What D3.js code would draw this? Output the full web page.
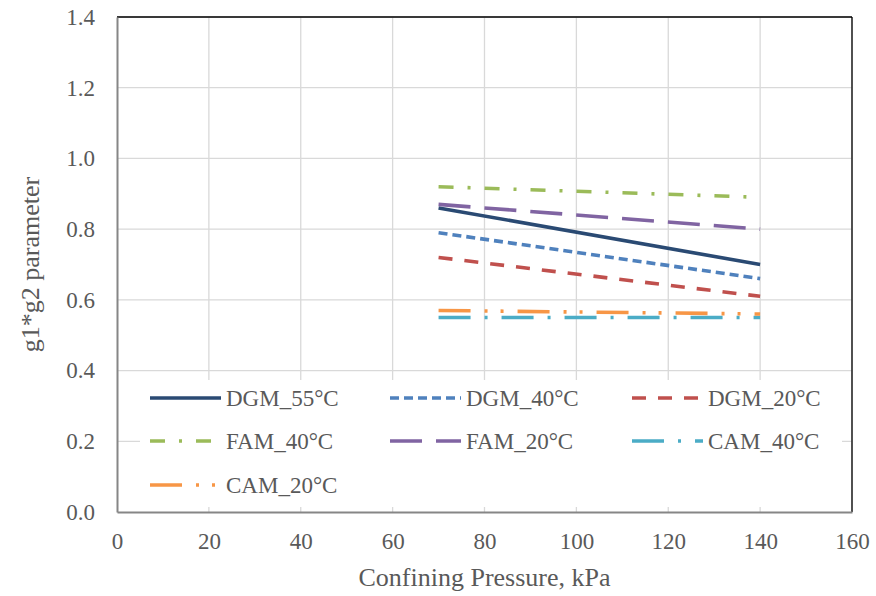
<!DOCTYPE html>
<html><head><meta charset="utf-8">
<script src="https://cdn.jsdelivr.net/npm/d3@7"></script>
<style>body{margin:0;background:#fff}svg{display:block}</style>
</head><body>
<svg id="c" width="876" height="596"></svg>
<script>
const xPressure = [70, 140];
const seriesNames = ["DGM_55°C","DGM_40°C","DGM_20°C","FAM_40°C","FAM_20°C","CAM_40°C","CAM_20°C"];
const dgm55 = [0.86, 0.70];
const dgm40 = [0.79, 0.66];
const dgm20 = [0.72, 0.61];
const fam40 = [0.92, 0.89];
const fam20 = [0.87, 0.80];
const cam40 = [0.55, 0.55];
const cam20 = [0.57, 0.56];
const xTicks = [0,20,40,60,80,100,120,140,160];
const yTicks = [0,0.2,0.4,0.6,0.8,1.0,1.2,1.4];

const styles = [
  {c:"#2a4a73", d:null},
  {c:"#4f81bd", d:"9,5"},
  {c:"#c0504d", d:"14,12"},
  {c:"#9bbb59", d:"15,14,3,14"},
  {c:"#8064a2", d:"32,14"},
  {c:"#4bacc6", d:"32,14,3,14"},
  {c:"#f79646", d:"32,14,3,13,3,14"}
];
const values = [dgm55, dgm40, dgm20, fam40, fam20, cam40, cam20];

const svg = d3.select("#c");
const L=117, R=852, T=17, B=512;
const x = d3.scaleLinear().domain([0,160]).range([L,R]);
const y = d3.scaleLinear().domain([0,1.4]).range([B,T]);
const font = "'Liberation Serif','Times New Roman',serif";

// grid
svg.append("g").selectAll("line").data(yTicks.slice(1)).join("line")
  .attr("x1",L).attr("x2",R).attr("y1",d=>y(d)).attr("y2",d=>y(d))
  .attr("stroke","#d9d9d9").attr("stroke-width",1.3);
svg.append("g").selectAll("line").data(xTicks.slice(1)).join("line")
  .attr("x1",d=>x(d)).attr("x2",d=>x(d)).attr("y1",T).attr("y2",B)
  .attr("stroke","#d9d9d9").attr("stroke-width",1.3);

// border top/right
svg.append("line").attr("x1",L).attr("x2",R).attr("y1",T).attr("y2",T).attr("stroke","#000").attr("stroke-width",1.3);
svg.append("line").attr("x1",R).attr("x2",R).attr("y1",T).attr("y2",B).attr("stroke","#000").attr("stroke-width",1.3);

// axes
const yAxis = d3.axisLeft(y).tickValues(yTicks).tickFormat(d3.format(".1f")).tickSize(0).tickPadding(22);
const gy = svg.append("g").attr("transform",`translate(${L},0)`).call(yAxis);
const xAxis = d3.axisBottom(x).tickValues(xTicks).tickFormat(d3.format("d")).tickSize(0).tickPadding(21);
const gx = svg.append("g").attr("transform",`translate(0,${B})`).call(xAxis);
[gx,gy].forEach(g=>{
  g.select(".domain").attr("stroke","#868686").attr("stroke-width",2);
  g.selectAll("text").attr("font-family",font).attr("font-size",23).attr("fill","#595959");
});

// lines
const line = d3.line().x((d,i)=>x(xPressure[i])).y(d=>y(d));
values.forEach((v,i)=>{
  svg.append("path").datum(v).attr("d",line).attr("fill","none")
    .attr("stroke",styles[i].c).attr("stroke-width",3.6)
    .attr("stroke-dasharray",styles[i].d);
});

// legend
svg.append("rect").attr("x",140).attr("y",380).attr("width",702).attr("height",127).attr("fill","#fff");
const colX=[150,390,632], rowY=[398,441,485];
seriesNames.forEach((n,i)=>{
  const cx=colX[i%3], cy=rowY[Math.floor(i/3)];
  svg.append("line").attr("x1",cx).attr("x2",cx+71).attr("y1",cy).attr("y2",cy)
    .attr("stroke",styles[i].c).attr("stroke-width",3.6).attr("stroke-dasharray",styles[i].d);
  svg.append("text").attr("x",cx+76).attr("y",cy).attr("dy","0.35em")
    .attr("font-family",font).attr("font-size",23).attr("fill","#595959").text(n);
});

// titles
svg.append("text").attr("x",(L+R)/2).attr("y",586).attr("text-anchor","middle")
  .attr("font-family",font).attr("font-size",26).attr("fill","#595959").text("Confining Pressure, kPa");
svg.append("text").attr("transform",`translate(39,${(T+B)/2}) rotate(-90)`).attr("text-anchor","middle")
  .attr("font-family",font).attr("font-size",26).attr("fill","#595959").text("g1*g2 parameter");
</script>
</body></html>
